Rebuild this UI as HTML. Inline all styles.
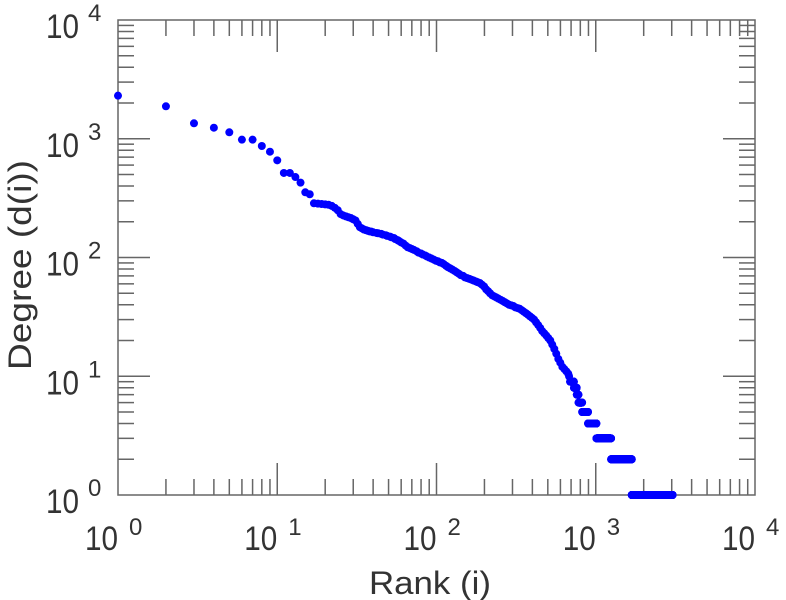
<!DOCTYPE html>
<html><head><meta charset="utf-8">
<style>
html,body{margin:0;padding:0;background:#fff;}
svg{display:block;font-family:"Liberation Sans",sans-serif;}
</style></head>
<body>
<svg id="chart" width="786" height="600" viewBox="0 0 786 600" xmlns="http://www.w3.org/2000/svg">
<g id="axes"></g>
<g id="points"></g>
<text x="430" y="594" font-size="32" fill="#333" text-anchor="middle" textLength="122" lengthAdjust="spacingAndGlyphs">Rank (i)</text>
<text x="0" y="0" font-size="32" fill="#333" text-anchor="middle" textLength="210" lengthAdjust="spacingAndGlyphs" transform="translate(31,265) rotate(-90)">Degree (d(i))</text>
</svg>
<script>
const xDecades = [0, 1, 2, 3, 4];
const yDecades = [0, 1, 2, 3, 4];
const ranks = [1,2,3,4,5,6,7,8,9,10,11,12,13,14,15,16,17,18,19,20,21,22,23,24,25,26,27,28,29,30,31,32,33,34,35,36,37,38,39,40,42,43,45,46,48,49,51,52,54,55,57,58,60,62,64,66,68,70,72,75,77,80,82,85,87,90,93,96,99,102,105,108,111,115,118,122,126,130,134,138,142,147,151,156,161,166,171,176,181,187,193,199,205,211,217,224,231,238,245,253,261,269,277,286,295,304,313,323,333,343,353,364,375,386,398,410,422,435,448,461,475,489,503,518,533,549,565,582,599,617,635,654,672,680];
const degrees = [2306,1876,1349,1239,1133,982,982,869,778,658,515,515,476,427,354,341,286,284,282,280,278,272,262,250,232,226,222,218,215,210,205,192,180,176,172,170,168,166,165,163,161,160,158,156,154,152,150,148,146,143,140,138,134,131,126,122,120,118,116,113,110,108,106,104,102,100,98,96,94,93,91,90,88,85,83,81,79,77,75,73,71,70,68,67,66,65,64,63,62,61,59,57,54,52,50,48,47,46,45,44,43,42,41,40,39.5,39,38,37.5,37,36,35,34,33,32,31,30,28.5,27,25.5,24,23,22,21,20,18.5,17,15.5,14,13,12,11.5,11,10.5,10];
const runDegrees = [9, 8, 7, 6, 5, 4, 3, 2, 1];
const runStart = [690, 730, 760, 780, 822, 895, 1010, 1249, 1683];
const runEnd = [729, 759, 779, 821, 894, 1009, 1248, 1682, 3034];

const L = 118, R = 755, T = 20, B = 495;
const NS = 'http://www.w3.org/2000/svg';
function xs(v){ return L + (Math.log10(v) - 0) / 4 * (R - L); }
function ys(v){ return B - (Math.log10(v) - 0) / 4 * (B - T); }
function mk(tag, attrs, parent){
  const e = document.createElementNS(NS, tag);
  for (const k in attrs) e.setAttribute(k, attrs[k]);
  parent.appendChild(e); return e;
}
const axes = document.getElementById('axes');
const pts = document.getElementById('points');
const tc = '#666';
for (let d = 0; d < 4; d++) {
  for (let m = 1; m <= 9; m++) {
    const v = Math.pow(10, d) * m;
    const len = m === 1 ? 32 : 16;
    const x = xs(v), y = ys(v);
    if (!(d === 0 && m === 1)) {
      const t1 = mk('line', {x1:x, x2:x, y1:B, y2:B-len, stroke:tc, 'stroke-width':1.5}, axes);
      
      
      const t2 = mk('line', {x1:x, x2:x, y1:T, y2:T+len, stroke:tc, 'stroke-width':1.5}, axes);
      
      
      const t3 = mk('line', {x1:L, x2:L+len, y1:y, y2:y, stroke:tc, 'stroke-width':1.5}, axes);
      
      
      const t4 = mk('line', {x1:R, x2:R-len, y1:y, y2:y, stroke:tc, 'stroke-width':1.5}, axes);
      
      
    }
  }
}
const frame = mk('rect', {x:L, y:T, width:R-L, height:B-T, fill:'none', stroke:tc, 'stroke-width':1.5}, axes);


xDecades.forEach(function(d){
  const x = xs(Math.pow(10, d));
  const g = mk('g', {}, axes);
  
  
  const a = mk('text', {x:x, y:550, 'font-size':34, fill:'#333', 'text-anchor':'end', textLength:33, lengthAdjust:'spacingAndGlyphs'}, g);
  a.textContent = '10';
  const b = mk('text', {x:x+11, y:535, 'font-size':24, fill:'#333'}, g);
  b.textContent = String(d);
});
yDecades.forEach(function(d){
  const y = ys(Math.pow(10, d));
  const g = mk('g', {}, axes);
  
  
  const a = mk('text', {x:79, y:y+18, 'font-size':34, fill:'#333', 'text-anchor':'end', textLength:33, lengthAdjust:'spacingAndGlyphs'}, g);
  a.textContent = '10';
  const b = mk('text', {x:88, y:y+1, 'font-size':24, fill:'#333'}, g);
  b.textContent = String(d);
});
ranks.forEach(function(r, i){
  const c = mk('circle', {cx:xs(r), cy:ys(degrees[i]), r:4, fill:'#0000ff'}, pts);
  
  
});
runDegrees.forEach(function(dg, i){
  for (let r = runStart[i]; r <= runEnd[i]; r++) {
    const c = mk('circle', {cx:xs(r), cy:ys(dg), r:4, fill:'#0000ff'}, pts);
    
    
  }
});
</script>
</body></html>
